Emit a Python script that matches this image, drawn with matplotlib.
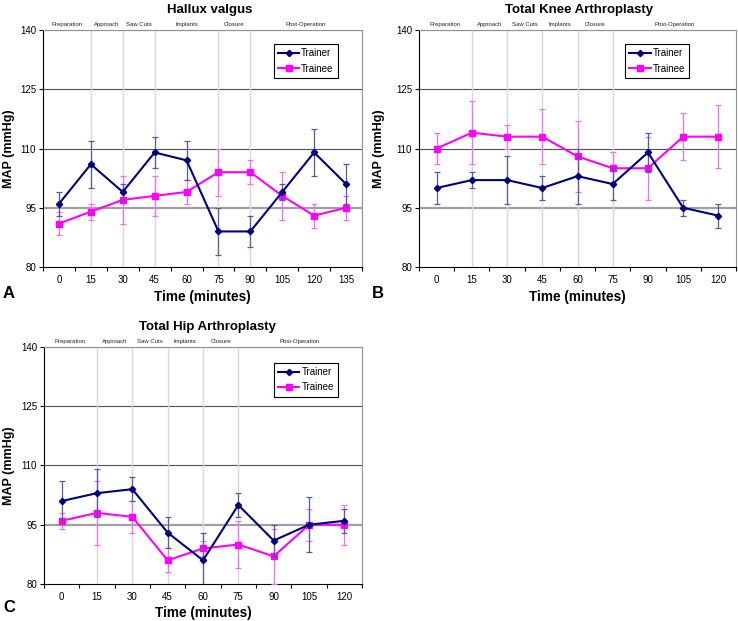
import matplotlib
matplotlib.use('Agg')
import matplotlib.pyplot as plt
import matplotlib.transforms as mtransforms
from matplotlib.lines import Line2D
import numpy as np

plt.rcParams['font.family'] = ['Liberation Sans', 'DejaVu Sans']

# ---------------------------------------------------------------------------
# Data
# ---------------------------------------------------------------------------
# A - Hallux valgus
hv_times = [0, 15, 30, 45, 60, 75, 90, 105, 120, 135]
hv_trainer = [96, 106, 99, 109, 107, 89, 89, 99, 109, 101]
hv_trainer_err = [3, 6, 2, 4, 5, 6, 4, 2, 6, 5]
hv_trainee = [91, 94, 97, 98, 99, 104, 104, 98, 93, 95]
hv_trainee_err = [3, 2, 6, 5, 3, 6, 3, 6, 3, 3]
hv_phase_bounds = [1, 2, 3, 5, 6]

# B - Total knee arthroplasty
tka_times = [0, 15, 30, 45, 60, 75, 90, 105, 120]
tka_trainer = [100, 102, 102, 100, 103, 101, 109, 95, 93]
tka_trainer_err = [4, 2, 6, 3, 7, 4, 5, 2, 3]
tka_trainee = [110, 114, 113, 113, 108, 105, 105, 113, 113]
tka_trainee_err = [4, 8, 3, 7, 9, 4, 8, 6, 8]
tka_phase_bounds = [1, 2, 3, 4, 5]

# C - Total hip arthroplasty
tha_times = [0, 15, 30, 45, 60, 75, 90, 105, 120]
tha_trainer = [101, 103, 104, 93, 86, 100, 91, 95, 96]
tha_trainer_err = [5, 6, 3, 4, 7, 3, 4, 7, 3]
tha_trainee = [96, 98, 97, 86, 89, 90, 87, 95, 95]
tha_trainee_err = [2, 8, 4, 3, 2, 6, 7, 4, 5]
tha_phase_bounds = [1, 2, 3, 4, 5]

phases = ['Preparation', 'Approach', 'Saw Cuts', 'Implants', 'Closure', 'Post-Operation']
y_ticks = [80, 95, 110, 125, 140]

NAVY = '#000080'
MAGENTA = '#FF00FF'

W, H = 738, 621
fig = plt.figure(figsize=(W / 100, H / 100), dpi=100)


def panel(rect, title, title_x, letter, times, tr, tr_err, te, te_err, bounds,
          leg_anchor, ylab_x):
    ax = fig.add_axes(rect)
    n = len(times)
    x = np.arange(n)
    ax.set_xlim(-0.5, n - 0.5)
    ax.set_ylim(80, 140)

    # horizontal gridlines
    ax.axhline(95, color='#a0a0a0', lw=1.6, zorder=1)
    for yv in [110, 125]:
        ax.axhline(yv, color='#505050', lw=0.8, zorder=1)
    ax.axhline(140, color='#909090', lw=0.8, zorder=1)

    # phase boundaries
    for b in bounds:
        ax.axvline(b, color='#d8d8d8', lw=1.0, zorder=1)

    # phase labels above plot
    edges = [-0.5] + list(bounds) + [n - 0.5]
    trans = mtransforms.blended_transform_factory(ax.transData, ax.transAxes)
    for i, name in enumerate(phases):
        xm = (edges[i] + edges[i + 1]) / 2
        ax.text(xm, 1.012, name, transform=trans, ha='center', va='bottom',
                fontsize=4.3, color='#222222')

    ax.errorbar(x, tr, yerr=tr_err, color=NAVY, ecolor='#5a5a9a', elinewidth=0.9,
                capsize=2, capthick=0.9, lw=1.5, marker='D', markersize=3.2, zorder=4)
    ax.errorbar(x, te, yerr=te_err, color=MAGENTA, ecolor='#f070f0', elinewidth=0.9,
                capsize=2, capthick=0.9, lw=1.5, marker='s', markersize=4.2, zorder=3)

    ax.set_xticks(x)
    ax.set_xticklabels([str(t) for t in times], fontsize=7)
    ax.set_xticks(np.arange(-0.5, n, 1.0), minor=True)
    ax.tick_params(axis='x', which='major', length=0, pad=6)
    ax.tick_params(axis='x', which='minor', length=3, width=0.8, direction='out')
    ax.set_yticks(y_ticks)
    ax.tick_params(axis='y', labelsize=7, length=3, width=0.8, direction='out', pad=2)

    for s in ['top', 'right']:
        ax.spines[s].set_color('#909090')
        ax.spines[s].set_linewidth(0.8)
    for s in ['left', 'bottom']:
        ax.spines[s].set_color('black')
        ax.spines[s].set_linewidth(0.8)

    ax.set_xlabel('Time (minutes)', fontsize=9.8, fontweight='bold', labelpad=3)
    ax.set_ylabel('MAP (mmHg)', fontsize=9, fontweight='bold')
    ax.yaxis.set_label_coords(ylab_x, 0.5)
    ax.set_title(title, fontsize=9.5, fontweight='bold', pad=12, x=title_x)

    handles = [Line2D([], [], color=NAVY, lw=1.5, marker='D', markersize=3.2),
               Line2D([], [], color=MAGENTA, lw=1.5, marker='s', markersize=4.2)]
    leg = ax.legend(handles, ['Trainer', 'Trainee'], loc='upper right',
                    bbox_to_anchor=leg_anchor, fontsize=7,
                    fancybox=False, framealpha=1, edgecolor='black',
                    handlelength=2.2, handletextpad=0.2, borderpad=0.45,
                    labelspacing=0.55)
    leg.get_frame().set_linewidth(0.8)

    fig.text(letter[1] / W, 1 - letter[2] / H, letter[0], fontsize=12,
             fontweight='bold', ha='left', va='center')
    return ax


panel([43 / W, 1 - 267 / H, 319 / W, 237 / H], 'Hallux valgus', 0.523, ('A', 3, 293),
      hv_times, hv_trainer, hv_trainer_err, hv_trainee, hv_trainee_err,
      hv_phase_bounds, (0.94, 0.962), -0.088)
panel([419 / W, 1 - 267 / H, 317 / W, 237 / H], 'Total Knee Arthroplasty', 0.505, ('B', 372, 293),
      tka_times, tka_trainer, tka_trainer_err, tka_trainee, tka_trainee_err,
      tka_phase_bounds, (0.868, 0.962), -0.107)
panel([44 / W, 1 - 584 / H, 318 / W, 237 / H], 'Total Hip Arthroplasty', 0.515, ('C', 3, 608),
      tha_times, tha_trainer, tha_trainer_err, tha_trainee, tha_trainee_err,
      tha_phase_bounds, (0.94, 0.954), -0.091)

fig.savefig('out.png', dpi=100)
